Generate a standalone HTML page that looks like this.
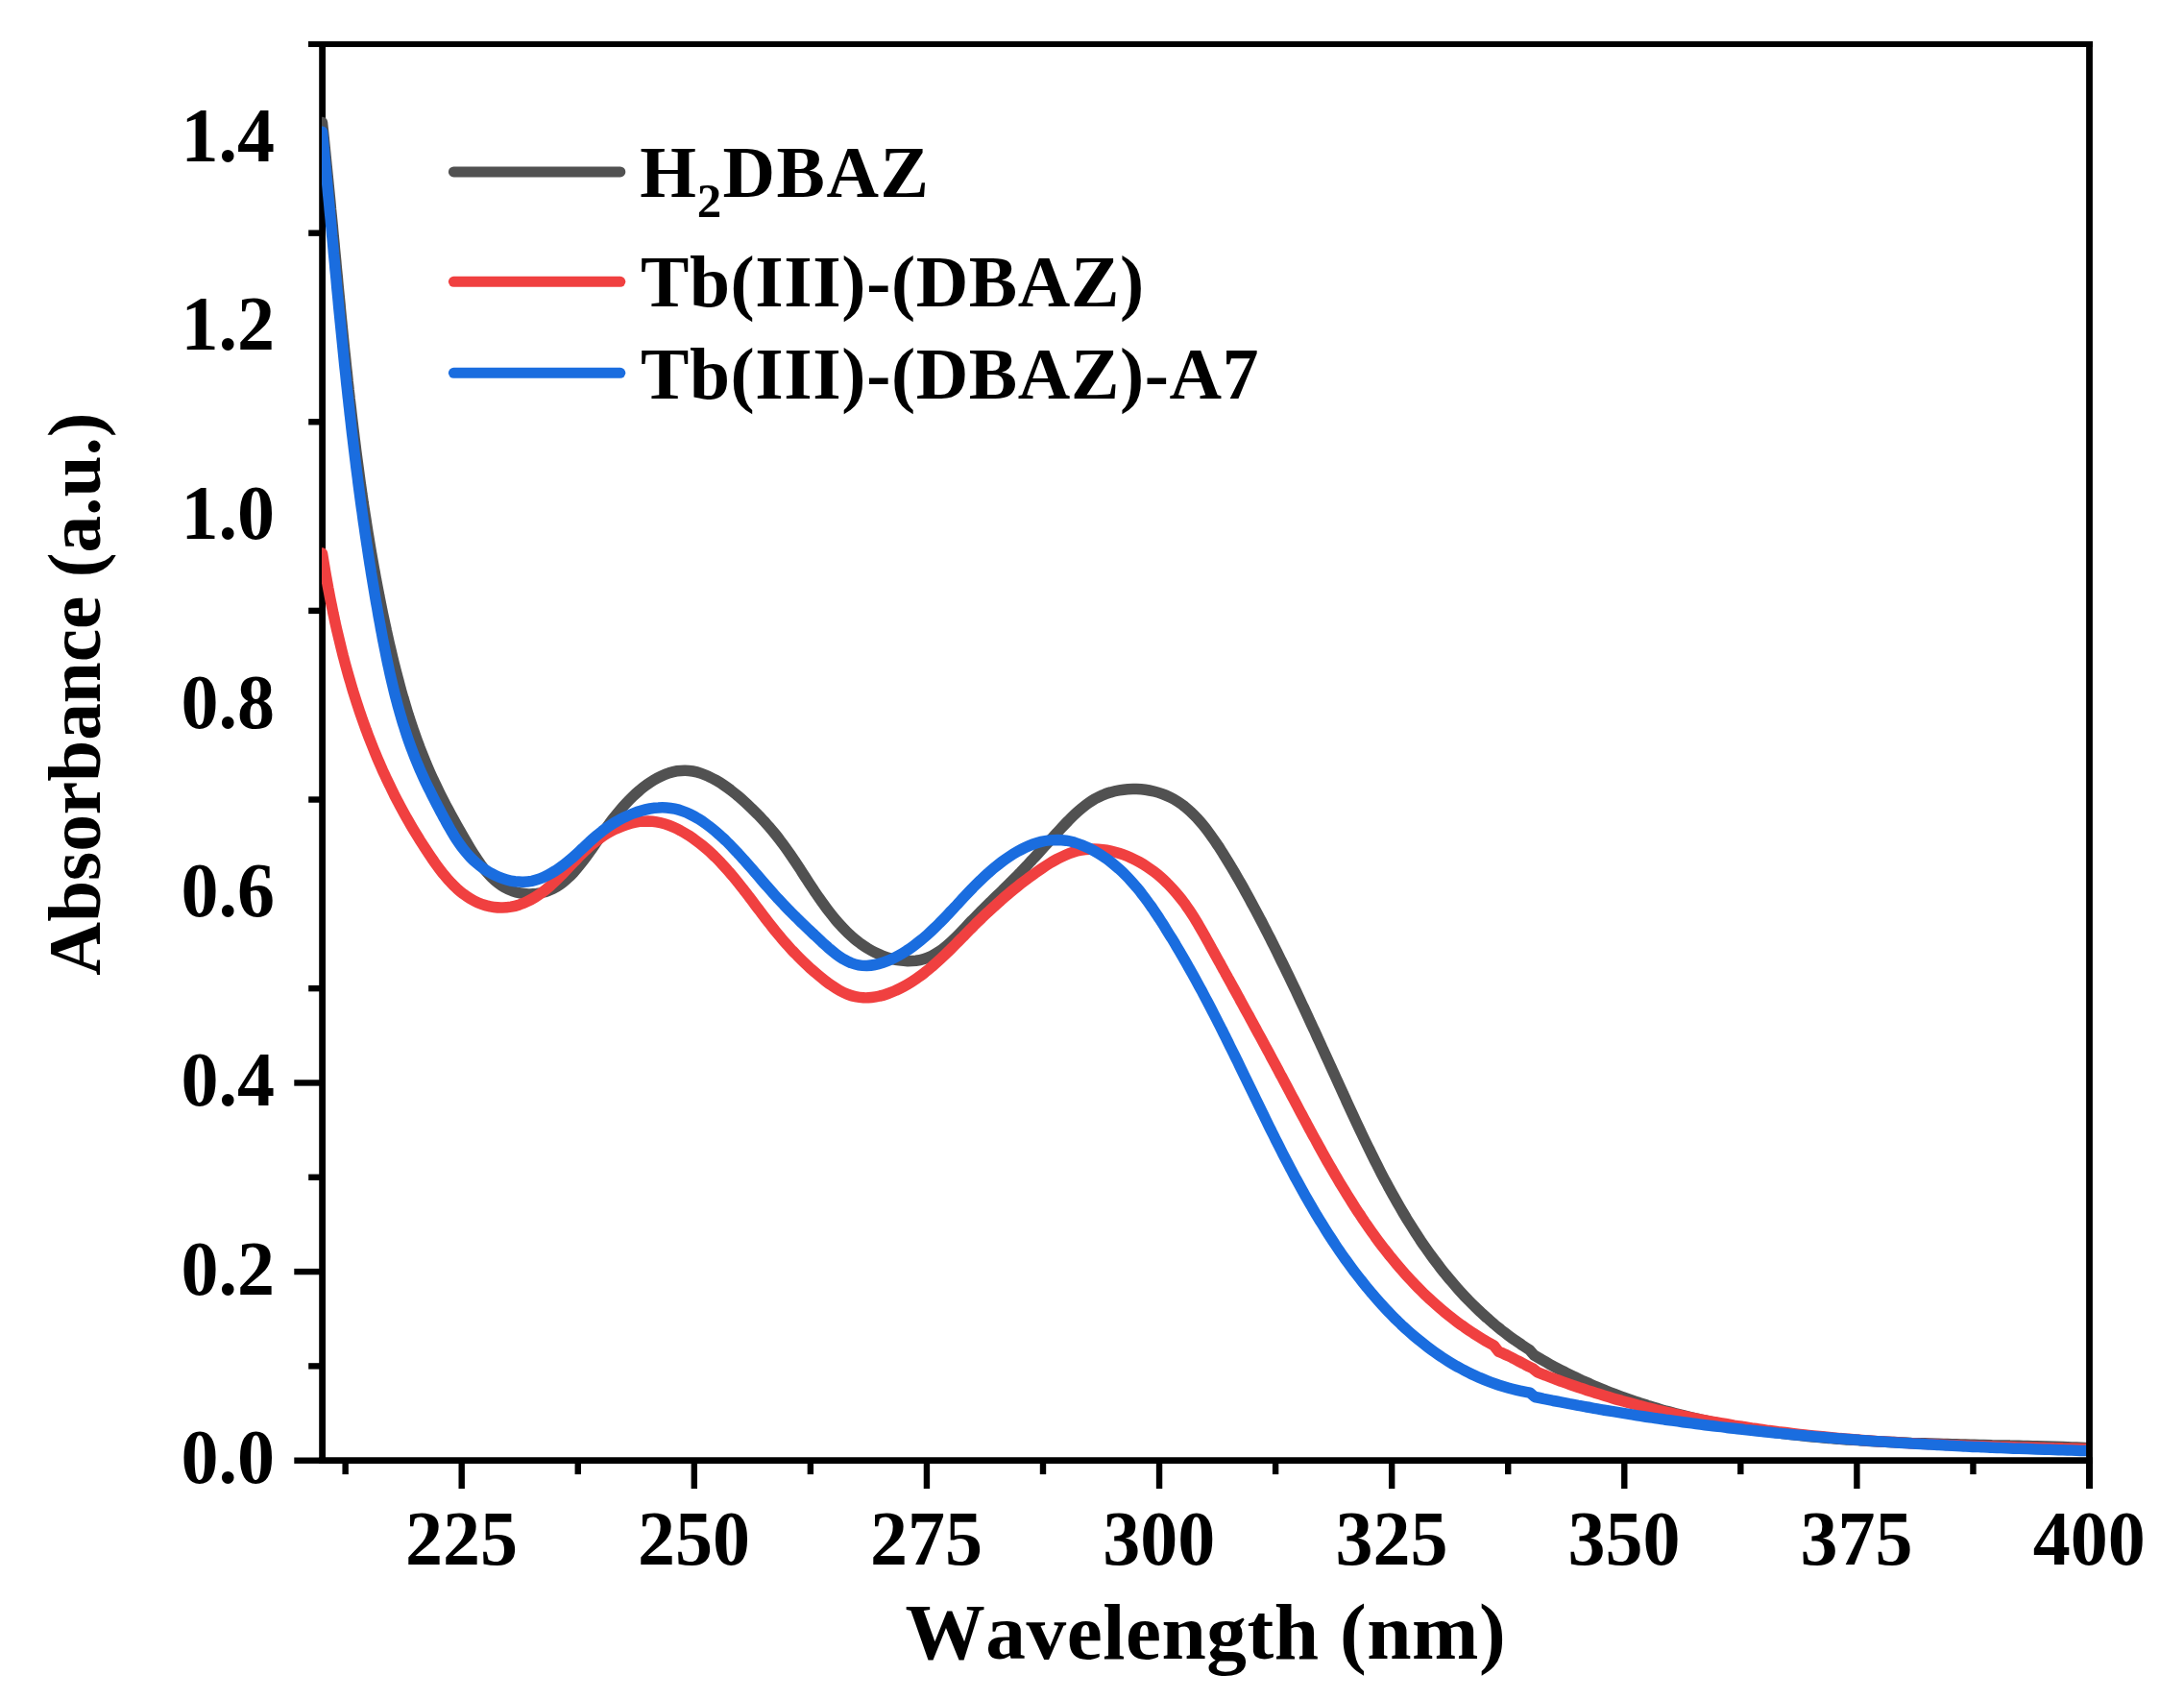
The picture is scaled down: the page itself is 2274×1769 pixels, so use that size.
<!DOCTYPE html>
<html lang="en"><head><meta charset="utf-8"><title>UV-Vis absorbance spectra</title>
<style>html,body{margin:0;padding:0;background:#fff;overflow:hidden}svg{display:block}text{font-family:"Liberation Serif","Times New Roman",serif;font-weight:700;fill:#000;font-kerning:none}</style></head><body>
<svg width="2274" height="1769" viewBox="0 0 2274 1769">
<rect width="2274" height="1769" fill="#fff"/>
<g stroke="#000" stroke-width="6.80" fill="none" stroke-linecap="butt">
<line x1="335.60" y1="43.00" x2="335.60" y2="1524.10"/>
<line x1="321.00" y1="46.00" x2="2178.90" y2="46.00" stroke-width="6"/>
<line x1="332.20" y1="1520.70" x2="2178.90" y2="1520.70"/>
</g>
<g stroke="#000" stroke-width="6.40" fill="none">
<line x1="321.20" y1="1422.39" x2="335.60" y2="1422.39"/>
<line x1="321.20" y1="1225.77" x2="335.60" y2="1225.77"/>
<line x1="321.20" y1="1029.15" x2="335.60" y2="1029.15"/>
<line x1="321.20" y1="832.53" x2="335.60" y2="832.53"/>
<line x1="321.20" y1="635.91" x2="335.60" y2="635.91"/>
<line x1="321.20" y1="439.29" x2="335.60" y2="439.29"/>
<line x1="321.20" y1="242.67" x2="335.60" y2="242.67"/>
<line x1="306.30" y1="1520.70" x2="335.60" y2="1520.70"/>
<line x1="306.30" y1="1324.08" x2="335.60" y2="1324.08"/>
<line x1="306.30" y1="1127.46" x2="335.60" y2="1127.46"/>
<line x1="480.70" y1="1520.70" x2="480.70" y2="1550.00"/>
<line x1="722.81" y1="1520.70" x2="722.81" y2="1550.00"/>
<line x1="964.93" y1="1520.70" x2="964.93" y2="1550.00"/>
<line x1="1207.05" y1="1520.70" x2="1207.05" y2="1550.00"/>
<line x1="1449.16" y1="1520.70" x2="1449.16" y2="1550.00"/>
<line x1="1691.28" y1="1520.70" x2="1691.28" y2="1550.00"/>
<line x1="1933.39" y1="1520.70" x2="1933.39" y2="1550.00"/>
<line x1="2175.50" y1="1520.70" x2="2175.50" y2="1550.00"/>
<line x1="359.64" y1="1520.70" x2="359.64" y2="1535.10"/>
<line x1="601.76" y1="1520.70" x2="601.76" y2="1535.10"/>
<line x1="843.87" y1="1520.70" x2="843.87" y2="1535.10"/>
<line x1="1085.99" y1="1520.70" x2="1085.99" y2="1535.10"/>
<line x1="1328.10" y1="1520.70" x2="1328.10" y2="1535.10"/>
<line x1="1570.22" y1="1520.70" x2="1570.22" y2="1535.10"/>
<line x1="1812.33" y1="1520.70" x2="1812.33" y2="1535.10"/>
<line x1="2054.45" y1="1520.70" x2="2054.45" y2="1535.10"/>
</g>
<defs><clipPath id="plotclip"><rect x="335.00" y="46.00" width="1840.50" height="1471.30"/></clipPath></defs>
<g clip-path="url(#plotclip)" fill="none" stroke-width="11.50" stroke-linecap="round" stroke-linejoin="round">
<path stroke="#515151" d="M335.5 127.5C335.8 130.5 336.1 133.5 336.5 136.5C336.8 139.5 337.1 142.5 337.4 145.5C337.7 148.5 338.0 151.5 338.3 154.5C338.6 157.5 338.9 160.5 339.2 163.5C339.5 166.5 339.8 169.5 340.1 172.5C340.4 175.5 340.7 178.5 341.0 181.5C341.3 184.5 341.6 187.5 341.9 190.5C342.2 193.5 342.5 196.5 342.8 199.5C343.1 202.5 343.4 205.5 343.7 208.5C344.0 211.5 344.3 214.5 344.5 217.5C344.8 220.5 345.1 223.5 345.4 226.5C345.7 229.5 346.0 232.5 346.3 235.5C346.5 238.5 346.8 241.5 347.1 244.5C347.4 247.5 347.7 250.5 348.0 253.5C348.2 256.5 348.5 259.5 348.8 262.5C349.1 265.5 349.4 268.5 349.7 271.5C349.9 274.5 350.2 277.5 350.5 280.5C350.8 283.5 351.1 286.5 351.4 289.5C351.6 292.5 351.9 295.5 352.2 298.5C352.5 301.5 352.8 304.5 353.1 307.5C353.4 310.5 353.7 313.5 354.0 316.5C354.2 319.5 354.5 322.5 354.8 325.5C355.1 328.5 355.4 331.5 355.7 334.5C356.0 337.5 356.3 340.5 356.6 343.5C356.9 346.5 357.2 349.5 357.5 352.5C357.8 355.5 358.1 358.5 358.4 361.5C358.7 364.5 359.0 367.5 359.4 370.5C359.7 373.5 360.0 376.5 360.3 379.5C360.6 382.5 360.9 385.5 361.3 388.4C361.6 391.4 361.9 394.4 362.2 397.4C362.6 400.4 362.9 403.4 363.2 406.4C363.6 409.4 363.9 412.4 364.2 415.4C364.6 418.4 364.9 421.4 365.3 424.4C365.6 427.4 365.9 430.3 366.3 433.3C366.7 436.3 367.0 439.3 367.4 442.3C367.7 445.3 368.1 448.3 368.5 451.3C368.8 454.3 369.2 457.3 369.6 460.2C370.0 463.2 370.3 466.2 370.7 469.2C371.1 472.2 371.5 475.2 371.9 478.2C372.3 481.1 372.7 484.1 373.1 487.1C373.5 490.1 373.9 493.1 374.3 496.1C374.7 499.1 375.1 502.0 375.5 505.0C376.0 508.0 376.4 511.0 376.8 514.0C377.3 516.9 377.7 519.9 378.1 522.9C378.6 525.9 379.0 528.9 379.5 531.8C379.9 534.8 380.4 537.8 380.9 540.8C381.3 543.8 381.8 546.7 382.3 549.7C382.7 552.7 383.2 555.7 383.7 558.6C384.2 561.6 384.7 564.6 385.2 567.6C385.7 570.5 386.2 573.5 386.7 576.5C387.2 579.4 387.8 582.4 388.3 585.4C388.8 588.4 389.3 591.3 389.9 594.3C390.4 597.3 391.0 600.2 391.5 603.2C392.1 606.2 392.6 609.1 393.2 612.1C393.8 615.1 394.4 618.0 394.9 621.0C395.5 623.9 396.1 626.9 396.7 629.9C397.3 632.8 397.9 635.8 398.5 638.8C399.1 641.7 399.8 644.7 400.4 647.6C401.0 650.6 401.7 653.5 402.3 656.5C403.0 659.5 403.6 662.4 404.3 665.4C404.9 668.3 405.6 671.3 406.3 674.2C407.0 677.2 407.7 680.1 408.4 683.1C409.1 686.0 409.8 688.9 410.5 691.9C411.3 694.8 412.0 697.7 412.8 700.7C413.5 703.6 414.3 706.5 415.1 709.4C415.8 712.3 416.6 715.2 417.4 718.2C418.2 721.1 419.1 724.0 419.9 726.8C420.8 729.7 421.6 732.6 422.5 735.5C423.4 738.4 424.2 741.2 425.1 744.1C426.1 747.0 427.0 749.8 427.9 752.7C428.9 755.5 429.8 758.3 430.8 761.2C431.8 764.0 432.8 766.8 433.8 769.6C434.8 772.4 435.9 775.2 436.9 778.0C438.0 780.8 439.1 783.6 440.2 786.3C441.3 789.1 442.4 791.9 443.5 794.6C444.7 797.3 445.8 800.1 447.0 802.8C448.2 805.5 449.4 808.2 450.7 810.9C451.9 813.6 453.2 816.3 454.5 818.9C455.8 821.6 457.1 824.3 458.4 827.0C459.7 829.6 461.1 832.3 462.5 834.9C463.8 837.6 465.2 840.3 466.7 842.9C468.1 845.6 469.5 848.3 471.0 850.9C472.5 853.6 474.0 856.3 475.5 859.0C477.0 861.7 478.5 864.3 480.1 867.1C481.6 869.8 483.2 872.5 484.8 875.2C486.4 878.0 488.0 880.7 489.6 883.4C491.3 886.2 493.0 888.9 494.7 891.5C496.4 894.2 498.2 896.8 500.0 899.4C501.9 901.9 503.8 904.4 505.7 906.7C507.7 909.0 509.7 911.3 511.8 913.4C513.9 915.5 516.1 917.4 518.4 919.2C520.7 921.0 523.0 922.6 525.5 924.0C528.0 925.4 530.6 926.7 533.3 927.6C535.9 928.6 538.7 929.4 541.6 929.9C544.4 930.5 547.3 930.8 550.2 930.9C553.1 931.0 556.0 930.8 558.9 930.5C561.8 930.1 564.7 929.5 567.5 928.6C570.3 927.8 573.0 926.7 575.7 925.4C578.3 924.1 580.9 922.5 583.3 920.8C585.8 919.0 588.1 917.1 590.4 915.0C592.7 913.0 594.9 910.8 597.0 908.5C599.0 906.3 601.1 903.9 603.0 901.5C604.9 899.2 606.8 896.8 608.6 894.4C610.4 892.0 612.1 889.6 613.8 887.2C615.5 884.8 617.2 882.4 618.9 880.0C620.5 877.6 622.2 875.2 623.8 872.7C625.5 870.3 627.1 867.9 628.9 865.4C630.6 863.0 632.3 860.6 634.1 858.1C635.9 855.7 637.7 853.2 639.7 850.8C641.6 848.3 643.6 845.9 645.7 843.4C647.7 841.0 649.9 838.6 652.1 836.3C654.3 833.9 656.5 831.6 658.8 829.4C661.1 827.2 663.5 825.0 665.9 823.0C668.3 820.9 670.8 819.0 673.3 817.2C675.8 815.3 678.4 813.6 680.9 812.1C683.5 810.5 686.1 809.1 688.8 807.9C691.4 806.7 694.1 805.6 696.8 804.8C699.5 803.9 702.2 803.2 704.9 802.8C707.6 802.4 710.4 802.2 713.1 802.2C715.8 802.2 718.6 802.5 721.4 803.0C724.1 803.5 726.9 804.2 729.6 805.1C732.3 806.0 735.1 807.1 737.8 808.4C740.5 809.6 743.2 811.1 745.8 812.6C748.5 814.1 751.1 815.8 753.8 817.6C756.4 819.3 758.9 821.2 761.5 823.2C764.0 825.1 766.5 827.2 768.9 829.2C771.3 831.3 773.7 833.4 776.0 835.5C778.4 837.6 780.6 839.8 782.8 841.9C785.0 844.1 787.2 846.2 789.2 848.3C791.3 850.4 793.3 852.6 795.3 854.7C797.3 856.9 799.2 859.1 801.1 861.2C803.0 863.4 804.9 865.6 806.7 867.9C808.5 870.1 810.3 872.4 812.0 874.7C813.8 877.0 815.6 879.3 817.3 881.7C819.0 884.1 820.7 886.5 822.4 889.0C824.1 891.5 825.8 894.0 827.5 896.5C829.2 899.0 830.9 901.6 832.6 904.2C834.3 906.8 835.9 909.4 837.6 912.0C839.3 914.6 841.0 917.2 842.7 919.8C844.5 922.5 846.2 925.1 847.9 927.7C849.7 930.3 851.4 932.9 853.2 935.4C855.0 938.0 856.8 940.6 858.7 943.1C860.5 945.6 862.4 948.1 864.3 950.5C866.2 952.9 868.1 955.3 870.1 957.7C872.0 960.0 874.1 962.3 876.1 964.5C878.2 966.7 880.3 968.9 882.4 971.0C884.6 973.0 886.8 975.0 889.0 977.0C891.3 978.9 893.6 980.7 896.0 982.5C898.4 984.2 900.8 985.8 903.3 987.4C905.8 988.9 908.4 990.4 911.0 991.7C913.7 993.0 916.4 994.2 919.2 995.3C921.9 996.3 924.8 997.3 927.7 998.1C930.5 998.8 933.4 999.5 936.3 999.9C939.2 1000.3 942.1 1000.6 945.0 1000.7C947.9 1000.7 950.8 1000.6 953.6 1000.3C956.5 999.9 959.3 999.3 962.0 998.5C964.7 997.7 967.4 996.6 970.0 995.3C972.6 994.0 975.1 992.5 977.6 990.8C980.1 989.2 982.5 987.3 984.9 985.3C987.2 983.4 989.6 981.3 991.9 979.1C994.2 976.9 996.5 974.7 998.7 972.4C1000.9 970.1 1003.2 967.7 1005.4 965.4C1007.6 963.1 1009.8 960.8 1011.9 958.5C1014.1 956.3 1016.3 954.1 1018.5 951.9C1020.6 949.7 1022.8 947.6 1024.9 945.4C1027.1 943.3 1029.2 941.2 1031.3 939.1C1033.5 937.0 1035.6 935.0 1037.7 932.9C1039.8 930.8 1042.0 928.8 1044.1 926.7C1046.2 924.7 1048.3 922.6 1050.3 920.6C1052.4 918.5 1054.5 916.4 1056.6 914.3C1058.7 912.2 1060.7 910.1 1062.8 908.0C1064.9 905.8 1066.9 903.7 1069.0 901.5C1071.0 899.3 1073.1 897.1 1075.1 894.9C1077.2 892.7 1079.2 890.5 1081.2 888.3C1083.3 886.0 1085.3 883.8 1087.4 881.5C1089.4 879.3 1091.5 877.0 1093.5 874.8C1095.6 872.5 1097.7 870.3 1099.7 868.0C1101.8 865.7 1103.9 863.5 1106.0 861.2C1108.1 859.0 1110.2 856.7 1112.3 854.6C1114.4 852.4 1116.6 850.2 1118.8 848.1C1121.0 846.0 1123.3 844.0 1125.6 842.1C1127.9 840.2 1130.2 838.3 1132.6 836.6C1135.1 834.9 1137.5 833.3 1140.1 831.8C1142.7 830.4 1145.3 829.0 1148.0 827.9C1150.7 826.7 1153.6 825.7 1156.4 824.9C1159.3 824.0 1162.3 823.3 1165.2 822.8C1168.2 822.3 1171.2 821.9 1174.3 821.7C1177.3 821.5 1180.4 821.5 1183.4 821.6C1186.5 821.7 1189.5 821.9 1192.5 822.3C1195.5 822.7 1198.5 823.3 1201.5 824.0C1204.4 824.7 1207.3 825.6 1210.1 826.6C1213.0 827.6 1215.7 828.8 1218.4 830.1C1221.0 831.4 1223.6 832.9 1226.1 834.5C1228.6 836.1 1231.0 837.8 1233.3 839.6C1235.6 841.5 1237.9 843.4 1240.0 845.5C1242.2 847.5 1244.3 849.7 1246.4 851.9C1248.4 854.1 1250.4 856.4 1252.3 858.7C1254.3 861.1 1256.2 863.5 1258.0 866.0C1259.8 868.4 1261.6 871.0 1263.4 873.5C1265.2 876.0 1266.9 878.6 1268.6 881.1C1270.3 883.7 1271.9 886.3 1273.6 888.9C1275.2 891.5 1276.8 894.1 1278.4 896.7C1280.0 899.3 1281.6 901.9 1283.1 904.5C1284.7 907.1 1286.2 909.7 1287.7 912.3C1289.2 914.9 1290.7 917.6 1292.2 920.2C1293.7 922.8 1295.2 925.4 1296.6 928.1C1298.1 930.7 1299.5 933.3 1301.0 936.0C1302.4 938.6 1303.8 941.3 1305.2 943.9C1306.7 946.6 1308.1 949.2 1309.5 951.9C1310.9 954.5 1312.3 957.2 1313.7 959.8C1315.1 962.5 1316.4 965.2 1317.8 967.8C1319.2 970.5 1320.5 973.2 1321.9 975.8C1323.3 978.5 1324.6 981.2 1326.0 983.9C1327.3 986.5 1328.6 989.2 1330.0 991.9C1331.3 994.6 1332.6 997.3 1333.9 1000.0C1335.3 1002.7 1336.6 1005.3 1337.9 1008.0C1339.2 1010.7 1340.5 1013.4 1341.8 1016.1C1343.1 1018.8 1344.4 1021.5 1345.7 1024.2C1347.0 1026.9 1348.3 1029.6 1349.6 1032.3C1350.8 1035.1 1352.1 1037.8 1353.4 1040.5C1354.7 1043.2 1355.9 1045.9 1357.2 1048.6C1358.5 1051.3 1359.7 1054.1 1361.0 1056.8C1362.3 1059.5 1363.5 1062.2 1364.8 1065.0C1366.1 1067.7 1367.3 1070.4 1368.6 1073.1C1369.8 1075.9 1371.1 1078.6 1372.3 1081.3C1373.6 1084.1 1374.8 1086.8 1376.1 1089.6C1377.3 1092.3 1378.6 1095.0 1379.8 1097.8C1381.1 1100.5 1382.3 1103.3 1383.6 1106.0C1384.8 1108.8 1386.1 1111.5 1387.4 1114.3C1388.6 1117.0 1389.9 1119.8 1391.1 1122.5C1392.4 1125.3 1393.6 1128.0 1394.9 1130.8C1396.1 1133.6 1397.4 1136.3 1398.6 1139.1C1399.9 1141.8 1401.2 1144.6 1402.4 1147.4C1403.7 1150.1 1405.0 1152.9 1406.2 1155.6C1407.5 1158.4 1408.8 1161.2 1410.1 1163.9C1411.4 1166.7 1412.6 1169.4 1413.9 1172.2C1415.2 1174.9 1416.5 1177.7 1417.8 1180.4C1419.1 1183.2 1420.4 1185.9 1421.8 1188.7C1423.1 1191.4 1424.4 1194.1 1425.8 1196.9C1427.1 1199.6 1428.4 1202.3 1429.8 1205.0C1431.1 1207.8 1432.5 1210.5 1433.9 1213.2C1435.3 1215.9 1436.6 1218.6 1438.0 1221.3C1439.4 1224.0 1440.8 1226.6 1442.2 1229.3C1443.7 1232.0 1445.1 1234.6 1446.5 1237.3C1448.0 1240.0 1449.4 1242.6 1450.9 1245.2C1452.4 1247.9 1453.9 1250.5 1455.4 1253.1C1456.9 1255.7 1458.4 1258.3 1459.9 1260.9C1461.4 1263.5 1463.0 1266.1 1464.5 1268.7C1466.1 1271.2 1467.7 1273.8 1469.3 1276.3C1470.9 1278.9 1472.5 1281.4 1474.1 1283.9C1475.7 1286.4 1477.4 1288.9 1479.0 1291.4C1480.7 1293.9 1482.4 1296.4 1484.1 1298.8C1485.8 1301.3 1487.5 1303.7 1489.3 1306.1C1491.0 1308.5 1492.8 1310.9 1494.6 1313.3C1496.4 1315.7 1498.2 1318.0 1500.0 1320.4C1501.8 1322.7 1503.7 1325.1 1505.6 1327.4C1507.4 1329.7 1509.3 1332.0 1511.3 1334.2C1513.2 1336.5 1515.1 1338.7 1517.1 1341.0C1519.1 1343.2 1521.1 1345.4 1523.1 1347.6C1525.1 1349.8 1527.2 1351.9 1529.3 1354.1C1531.3 1356.2 1533.4 1358.3 1535.6 1360.4C1537.7 1362.5 1539.9 1364.5 1542.1 1366.6C1544.2 1368.6 1546.5 1370.6 1548.7 1372.6C1551.0 1374.6 1553.2 1376.6 1555.5 1378.5C1557.8 1380.5 1560.2 1382.4 1562.5 1384.3C1564.9 1386.1 1567.3 1388.0 1569.7 1389.8C1572.2 1391.7 1574.6 1393.5 1577.1 1395.2C1579.6 1397.0 1582.2 1398.7 1584.7 1400.5C1587.3 1402.2 1589.9 1403.8 1592.5 1405.5L1597.3 1411.0C1600.0 1412.6 1602.7 1414.2 1605.4 1415.8C1608.1 1417.3 1610.9 1418.9 1613.6 1420.4C1616.3 1421.9 1619.1 1423.4 1621.8 1424.8C1624.6 1426.3 1627.4 1427.7 1630.1 1429.1C1632.9 1430.5 1635.7 1431.9 1638.5 1433.2C1641.3 1434.5 1644.1 1435.9 1646.9 1437.2C1649.7 1438.4 1652.5 1439.7 1655.3 1440.9C1658.1 1442.2 1660.9 1443.4 1663.8 1444.6C1666.6 1445.8 1669.5 1446.9 1672.3 1448.1C1675.2 1449.2 1678.0 1450.3 1680.9 1451.4C1683.8 1452.5 1686.6 1453.6 1689.5 1454.6C1692.4 1455.7 1695.3 1456.7 1698.2 1457.7C1701.1 1458.7 1704.0 1459.7 1706.9 1460.6C1709.8 1461.6 1712.7 1462.5 1715.6 1463.5C1718.6 1464.4 1721.5 1465.3 1724.4 1466.1C1727.4 1467.0 1730.3 1467.8 1733.2 1468.7C1736.2 1469.5 1739.1 1470.3 1742.1 1471.1C1745.1 1471.9 1748.0 1472.7 1751.0 1473.4C1754.0 1474.2 1756.9 1474.9 1759.9 1475.6C1762.9 1476.3 1765.9 1477.0 1768.9 1477.7C1771.9 1478.3 1774.9 1479.0 1777.9 1479.6C1780.9 1480.3 1783.9 1480.9 1786.9 1481.5C1789.9 1482.1 1792.9 1482.7 1795.9 1483.3C1799.0 1483.8 1802.0 1484.4 1805.0 1484.9C1808.0 1485.5 1811.1 1486.0 1814.1 1486.5C1817.2 1487.0 1820.2 1487.5 1823.2 1488.0C1826.3 1488.4 1829.3 1488.9 1832.4 1489.4C1835.4 1489.8 1838.5 1490.2 1841.6 1490.6C1844.6 1491.1 1847.7 1491.5 1850.8 1491.9C1853.8 1492.3 1856.9 1492.6 1860.0 1493.0C1863.0 1493.4 1866.1 1493.7 1869.2 1494.1C1872.3 1494.4 1875.4 1494.7 1878.4 1495.0C1881.5 1495.4 1884.6 1495.7 1887.7 1496.0C1890.8 1496.2 1893.9 1496.5 1897.0 1496.8C1900.1 1497.1 1903.2 1497.3 1906.3 1497.6C1909.4 1497.8 1912.5 1498.1 1915.6 1498.3C1918.7 1498.5 1921.8 1498.8 1924.9 1499.0C1928.0 1499.2 1931.1 1499.4 1934.2 1499.6C1937.3 1499.8 1940.4 1500.0 1943.5 1500.2C1946.6 1500.3 1949.8 1500.5 1952.9 1500.7C1956.0 1500.8 1959.1 1501.0 1962.2 1501.2C1965.3 1501.3 1968.4 1501.5 1971.6 1501.6C1974.7 1501.7 1977.8 1501.9 1980.9 1502.0C1984.0 1502.1 1987.1 1502.2 1990.2 1502.4C1993.4 1502.5 1996.5 1502.6 1999.6 1502.7C2002.7 1502.8 2005.8 1502.9 2008.9 1503.0C2012.1 1503.1 2015.2 1503.2 2018.3 1503.3C2021.4 1503.4 2024.5 1503.5 2027.6 1503.5C2030.7 1503.6 2033.9 1503.7 2037.0 1503.8C2040.1 1503.9 2043.2 1503.9 2046.3 1504.0C2049.4 1504.1 2052.5 1504.2 2055.6 1504.2C2058.7 1504.3 2061.8 1504.4 2064.9 1504.4C2068.0 1504.5 2071.1 1504.6 2074.2 1504.7C2077.3 1504.7 2080.4 1504.8 2083.5 1504.9C2086.6 1504.9 2089.7 1505.0 2092.8 1505.1C2095.9 1505.1 2099.0 1505.2 2102.1 1505.3C2105.1 1505.4 2108.2 1505.4 2111.3 1505.5C2114.4 1505.6 2117.5 1505.7 2120.5 1505.7C2123.6 1505.8 2126.7 1505.9 2129.7 1506.0C2132.8 1506.1 2135.9 1506.2 2138.9 1506.3C2142.0 1506.4 2145.1 1506.5 2148.1 1506.6C2151.2 1506.7 2154.2 1506.8 2157.3 1506.9C2160.3 1507.0 2163.4 1507.1 2166.4 1507.2C2169.4 1507.3 2172.5 1507.5 2175.5 1507.6"/>
<path stroke="#F04040" d="M335.5 576.1C336.0 579.1 336.5 582.1 337.0 585.1C337.5 588.2 338.0 591.2 338.5 594.2C339.0 597.2 339.5 600.2 340.1 603.2C340.6 606.2 341.2 609.2 341.7 612.1C342.3 615.1 342.9 618.1 343.4 621.1C344.0 624.1 344.6 627.0 345.2 630.0C345.8 633.0 346.4 635.9 347.0 638.9C347.7 641.9 348.3 644.8 348.9 647.8C349.6 650.7 350.2 653.7 350.9 656.6C351.6 659.6 352.3 662.5 353.0 665.4C353.7 668.4 354.4 671.3 355.1 674.2C355.8 677.1 356.6 680.1 357.3 683.0C358.1 685.9 358.8 688.8 359.6 691.7C360.4 694.6 361.2 697.5 362.0 700.4C362.8 703.3 363.6 706.1 364.5 709.0C365.3 711.9 366.2 714.8 367.0 717.7C367.9 720.5 368.8 723.4 369.7 726.2C370.6 729.1 371.5 731.9 372.5 734.8C373.4 737.6 374.3 740.5 375.3 743.3C376.3 746.1 377.3 749.0 378.3 751.8C379.3 754.6 380.3 757.4 381.3 760.2C382.4 763.0 383.4 765.8 384.5 768.6C385.6 771.4 386.7 774.2 387.8 777.0C388.9 779.8 390.0 782.6 391.2 785.3C392.3 788.1 393.5 790.9 394.7 793.6C395.9 796.4 397.1 799.1 398.3 801.9C399.6 804.6 400.8 807.3 402.1 810.1C403.4 812.8 404.6 815.5 406.0 818.2C407.3 821.0 408.6 823.7 410.0 826.4C411.3 829.1 412.7 831.7 414.1 834.4C415.5 837.1 416.9 839.8 418.4 842.5C419.8 845.1 421.3 847.8 422.8 850.5C424.3 853.1 425.8 855.8 427.3 858.4C428.8 861.0 430.4 863.7 432.0 866.3C433.6 868.9 435.2 871.5 436.8 874.1C438.5 876.7 440.1 879.3 441.8 881.9C443.5 884.5 445.2 887.1 446.9 889.7C448.6 892.3 450.4 894.8 452.2 897.4C454.0 899.9 455.8 902.4 457.7 904.9C459.5 907.3 461.4 909.8 463.4 912.1C465.3 914.4 467.3 916.7 469.4 918.9C471.4 921.1 473.6 923.2 475.7 925.2C477.9 927.2 480.2 929.1 482.5 930.8C484.8 932.6 487.2 934.2 489.6 935.7C492.1 937.2 494.6 938.5 497.3 939.7C499.9 940.8 502.6 941.8 505.4 942.6C508.3 943.4 511.2 944.1 514.1 944.5C517.1 944.9 520.1 945.1 523.1 945.0C526.1 945.0 529.2 944.7 532.1 944.2C535.1 943.6 538.0 942.8 540.9 941.9C543.8 940.9 546.6 939.8 549.4 938.4C552.1 937.1 554.8 935.6 557.4 934.0C560.0 932.4 562.5 930.7 564.9 928.9C567.3 927.1 569.7 925.1 572.0 923.1C574.3 921.1 576.5 919.0 578.7 916.9C580.9 914.8 583.1 912.6 585.2 910.5C587.3 908.3 589.4 906.1 591.4 903.9C593.5 901.8 595.5 899.6 597.6 897.4C599.7 895.3 601.7 893.1 603.8 891.0C605.9 888.9 608.0 886.8 610.2 884.8C612.3 882.8 614.5 880.8 616.8 878.9C619.1 876.9 621.5 875.1 623.9 873.3C626.4 871.5 628.9 869.8 631.5 868.2C634.2 866.6 636.9 865.1 639.7 863.7C642.5 862.3 645.3 861.1 648.2 860.0C651.1 858.9 654.1 857.9 657.0 857.1C660.0 856.4 663.0 855.8 666.0 855.4C668.9 855.0 671.9 854.9 674.9 854.9C677.8 855.0 680.8 855.3 683.7 855.8C686.6 856.3 689.5 857.0 692.3 857.9C695.1 858.8 697.9 859.8 700.7 861.0C703.5 862.2 706.2 863.5 708.8 865.0C711.5 866.4 714.1 868.0 716.7 869.6C719.2 871.3 721.7 873.0 724.2 874.8C726.6 876.5 729.0 878.4 731.3 880.3C733.6 882.2 735.9 884.1 738.1 886.1C740.4 888.1 742.5 890.2 744.7 892.3C746.8 894.4 748.9 896.5 750.9 898.7C753.0 900.9 755.0 903.1 757.0 905.3C759.0 907.6 760.9 909.9 762.9 912.2C764.8 914.5 766.7 916.8 768.6 919.1C770.5 921.5 772.3 923.9 774.2 926.2C776.0 928.6 777.9 931.0 779.7 933.4C781.6 935.8 783.4 938.2 785.2 940.7C787.0 943.1 788.8 945.5 790.7 947.9C792.5 950.3 794.3 952.7 796.1 955.1C798.0 957.5 799.8 959.9 801.7 962.3C803.6 964.7 805.4 967.0 807.3 969.4C809.2 971.7 811.1 974.0 813.1 976.3C815.0 978.6 817.0 980.9 819.0 983.1C821.0 985.3 823.0 987.6 825.0 989.8C827.1 992.0 829.2 994.1 831.3 996.3C833.4 998.4 835.6 1000.6 837.8 1002.7C840.0 1004.8 842.2 1006.8 844.5 1008.9C846.8 1010.9 849.1 1012.9 851.5 1014.9C853.9 1016.9 856.3 1018.9 858.8 1020.8C861.2 1022.7 863.7 1024.6 866.3 1026.3C868.9 1028.1 871.5 1029.8 874.1 1031.2C876.8 1032.7 879.5 1034.0 882.2 1035.1C884.9 1036.2 887.7 1037.1 890.5 1037.7C893.3 1038.3 896.1 1038.7 898.9 1038.8C901.8 1039.0 904.7 1038.8 907.5 1038.5C910.4 1038.2 913.3 1037.7 916.1 1037.0C919.0 1036.4 921.8 1035.5 924.6 1034.5C927.4 1033.5 930.2 1032.4 932.9 1031.1C935.7 1029.9 938.4 1028.5 941.0 1027.1C943.6 1025.7 946.2 1024.2 948.7 1022.6C951.3 1021.0 953.7 1019.3 956.2 1017.6C958.6 1015.9 961.0 1014.1 963.3 1012.2C965.7 1010.4 968.0 1008.5 970.3 1006.5C972.6 1004.6 974.8 1002.6 977.0 1000.6C979.2 998.6 981.4 996.5 983.6 994.4C985.8 992.3 988.0 990.2 990.1 988.1C992.3 985.9 994.4 983.8 996.5 981.6C998.6 979.5 1000.8 977.3 1002.9 975.2C1005.0 973.0 1007.1 970.8 1009.2 968.7C1011.4 966.6 1013.5 964.4 1015.6 962.3C1017.8 960.2 1019.9 958.1 1022.1 956.0C1024.2 953.9 1026.4 951.8 1028.6 949.8C1030.8 947.7 1033.0 945.7 1035.2 943.7C1037.4 941.7 1039.6 939.6 1041.9 937.7C1044.1 935.7 1046.4 933.7 1048.7 931.8C1051.0 929.8 1053.3 927.9 1055.6 926.0C1058.0 924.1 1060.3 922.2 1062.7 920.3C1065.1 918.4 1067.5 916.6 1070.0 914.8C1072.4 912.9 1074.9 911.1 1077.4 909.4C1079.9 907.6 1082.4 905.8 1085.0 904.1C1087.5 902.4 1090.1 900.7 1092.8 899.0C1095.4 897.4 1098.1 895.9 1100.8 894.4C1103.5 893.0 1106.2 891.7 1109.0 890.5C1111.7 889.3 1114.5 888.2 1117.4 887.3C1120.2 886.4 1123.0 885.7 1125.9 885.2C1128.8 884.6 1131.7 884.3 1134.7 884.2C1137.6 884.0 1140.6 884.0 1143.5 884.2C1146.5 884.4 1149.4 884.7 1152.4 885.2C1155.3 885.7 1158.3 886.4 1161.2 887.2C1164.1 888.0 1167.0 888.9 1169.8 889.9C1172.7 891.0 1175.5 892.2 1178.3 893.5C1181.1 894.7 1183.8 896.1 1186.5 897.6C1189.2 899.1 1191.8 900.7 1194.3 902.4C1196.9 904.1 1199.3 905.9 1201.7 907.7C1204.1 909.5 1206.5 911.5 1208.7 913.4C1211.0 915.4 1213.2 917.5 1215.3 919.6C1217.5 921.7 1219.5 923.9 1221.5 926.1C1223.6 928.4 1225.5 930.7 1227.4 933.0C1229.3 935.3 1231.2 937.7 1233.0 940.1C1234.7 942.6 1236.5 945.0 1238.2 947.5C1239.9 950.0 1241.5 952.5 1243.1 955.1C1244.7 957.6 1246.2 960.2 1247.8 962.8C1249.3 965.4 1250.8 968.0 1252.3 970.6C1253.8 973.2 1255.2 975.9 1256.7 978.5C1258.1 981.1 1259.6 983.7 1261.0 986.4C1262.5 989.0 1264.0 991.6 1265.4 994.2C1266.9 996.9 1268.3 999.5 1269.8 1002.1C1271.2 1004.7 1272.7 1007.3 1274.1 1010.0C1275.6 1012.6 1277.0 1015.2 1278.4 1017.8C1279.9 1020.4 1281.3 1023.1 1282.8 1025.7C1284.2 1028.3 1285.7 1030.9 1287.1 1033.5C1288.5 1036.2 1290.0 1038.8 1291.4 1041.4C1292.8 1044.0 1294.3 1046.6 1295.7 1049.3C1297.1 1051.9 1298.6 1054.5 1300.0 1057.1C1301.4 1059.8 1302.9 1062.4 1304.3 1065.0C1305.7 1067.7 1307.2 1070.3 1308.6 1072.9C1310.0 1075.6 1311.5 1078.2 1312.9 1080.8C1314.3 1083.5 1315.7 1086.1 1317.2 1088.8C1318.6 1091.4 1320.0 1094.1 1321.5 1096.7C1322.9 1099.4 1324.3 1102.0 1325.7 1104.7C1327.2 1107.3 1328.6 1110.0 1330.0 1112.6C1331.4 1115.3 1332.9 1118.0 1334.3 1120.6C1335.7 1123.3 1337.1 1126.0 1338.5 1128.6C1340.0 1131.3 1341.4 1134.0 1342.8 1136.7C1344.2 1139.3 1345.7 1142.0 1347.1 1144.7C1348.5 1147.4 1349.9 1150.1 1351.4 1152.8C1352.8 1155.5 1354.2 1158.2 1355.7 1160.9C1357.1 1163.5 1358.5 1166.2 1360.0 1168.9C1361.4 1171.6 1362.9 1174.3 1364.3 1177.0C1365.8 1179.7 1367.2 1182.4 1368.7 1185.0C1370.2 1187.7 1371.6 1190.4 1373.1 1193.1C1374.6 1195.7 1376.1 1198.4 1377.5 1201.1C1379.0 1203.7 1380.5 1206.4 1382.0 1209.1C1383.5 1211.7 1385.1 1214.4 1386.6 1217.0C1388.1 1219.6 1389.6 1222.3 1391.2 1224.9C1392.7 1227.5 1394.3 1230.2 1395.8 1232.8C1397.4 1235.4 1399.0 1238.0 1400.6 1240.6C1402.2 1243.2 1403.8 1245.7 1405.4 1248.3C1407.0 1250.9 1408.6 1253.4 1410.2 1256.0C1411.9 1258.5 1413.5 1261.1 1415.2 1263.6C1416.9 1266.1 1418.5 1268.6 1420.2 1271.1C1421.9 1273.6 1423.6 1276.1 1425.4 1278.6C1427.1 1281.0 1428.8 1283.5 1430.6 1285.9C1432.4 1288.4 1434.1 1290.8 1435.9 1293.2C1437.7 1295.6 1439.5 1298.0 1441.4 1300.3C1443.2 1302.7 1445.1 1305.1 1446.9 1307.4C1448.8 1309.7 1450.7 1312.1 1452.6 1314.3C1454.5 1316.6 1456.5 1318.9 1458.4 1321.2C1460.4 1323.4 1462.3 1325.7 1464.3 1327.9C1466.3 1330.1 1468.4 1332.3 1470.4 1334.4C1472.4 1336.6 1474.5 1338.8 1476.6 1340.9C1478.7 1343.0 1480.8 1345.1 1482.9 1347.2C1485.1 1349.2 1487.3 1351.3 1489.4 1353.3C1491.6 1355.3 1493.9 1357.3 1496.1 1359.3C1498.3 1361.3 1500.6 1363.2 1502.9 1365.1C1505.2 1367.1 1507.5 1368.9 1509.9 1370.8C1512.2 1372.7 1514.6 1374.5 1517.0 1376.3C1519.4 1378.1 1521.9 1379.9 1524.4 1381.6C1526.8 1383.4 1529.3 1385.1 1531.9 1386.8C1534.4 1388.4 1536.9 1390.1 1539.5 1391.7C1542.1 1393.3 1544.8 1394.9 1547.4 1396.5C1550.1 1398.0 1552.8 1399.5 1555.5 1401.0L1560.5 1407.5C1562.2 1408.2 1564.0 1408.8 1565.7 1409.6C1567.4 1410.3 1569.1 1411.1 1570.7 1411.9C1572.4 1412.7 1574.1 1413.5 1575.7 1414.4C1577.4 1415.2 1579.0 1416.1 1580.6 1417.0C1582.3 1417.8 1583.9 1418.7 1585.6 1419.6C1587.2 1420.5 1588.8 1421.3 1590.5 1422.2C1592.2 1423.0 1593.8 1423.8 1595.5 1424.6L1600.5 1428.6C1603.4 1429.7 1606.3 1430.9 1609.2 1432.0C1612.1 1433.2 1615.0 1434.3 1617.9 1435.4C1620.8 1436.5 1623.7 1437.5 1626.6 1438.6C1629.5 1439.7 1632.4 1440.7 1635.3 1441.7C1638.3 1442.8 1641.2 1443.8 1644.1 1444.8C1647.0 1445.7 1650.0 1446.7 1652.9 1447.7C1655.8 1448.6 1658.8 1449.6 1661.7 1450.5C1664.7 1451.4 1667.6 1452.3 1670.6 1453.2C1673.5 1454.1 1676.5 1455.0 1679.4 1455.9C1682.4 1456.8 1685.4 1457.6 1688.3 1458.4C1691.3 1459.3 1694.3 1460.1 1697.2 1460.9C1700.2 1461.7 1703.2 1462.5 1706.2 1463.3C1709.2 1464.0 1712.1 1464.8 1715.1 1465.6C1718.1 1466.3 1721.1 1467.0 1724.1 1467.8C1727.1 1468.5 1730.1 1469.2 1733.1 1469.9C1736.1 1470.6 1739.1 1471.2 1742.1 1471.9C1745.1 1472.6 1748.1 1473.2 1751.1 1473.9C1754.1 1474.5 1757.2 1475.1 1760.2 1475.8C1763.2 1476.4 1766.2 1477.0 1769.2 1477.6C1772.3 1478.1 1775.3 1478.7 1778.3 1479.3C1781.4 1479.9 1784.4 1480.4 1787.4 1480.9C1790.5 1481.5 1793.5 1482.0 1796.5 1482.5C1799.6 1483.1 1802.6 1483.6 1805.7 1484.1C1808.7 1484.5 1811.7 1485.0 1814.8 1485.5C1817.8 1486.0 1820.9 1486.4 1823.9 1486.9C1827.0 1487.3 1830.0 1487.8 1833.1 1488.2C1836.2 1488.6 1839.2 1489.1 1842.3 1489.5C1845.3 1489.9 1848.4 1490.3 1851.5 1490.7C1854.5 1491.1 1857.6 1491.4 1860.7 1491.8C1863.7 1492.2 1866.8 1492.6 1869.9 1492.9C1872.9 1493.3 1876.0 1493.6 1879.1 1493.9C1882.2 1494.3 1885.2 1494.6 1888.3 1494.9C1891.4 1495.2 1894.5 1495.5 1897.5 1495.8C1900.6 1496.1 1903.7 1496.4 1906.8 1496.7C1909.9 1497.0 1913.0 1497.3 1916.0 1497.6C1919.1 1497.8 1922.2 1498.1 1925.3 1498.3C1928.4 1498.6 1931.5 1498.8 1934.6 1499.1C1937.6 1499.3 1940.7 1499.6 1943.8 1499.8C1946.9 1500.0 1950.0 1500.2 1953.1 1500.4C1956.2 1500.6 1959.3 1500.9 1962.4 1501.1C1965.5 1501.3 1968.6 1501.4 1971.7 1501.6C1974.7 1501.8 1977.8 1502.0 1980.9 1502.2C1984.0 1502.4 1987.1 1502.5 1990.2 1502.7C1993.3 1502.9 1996.4 1503.0 1999.5 1503.2C2002.6 1503.3 2005.7 1503.5 2008.8 1503.6C2011.9 1503.8 2015.0 1503.9 2018.1 1504.1C2021.2 1504.2 2024.3 1504.3 2027.4 1504.4C2030.5 1504.6 2033.6 1504.7 2036.7 1504.8C2039.8 1504.9 2042.9 1505.1 2046.0 1505.2C2049.0 1505.3 2052.1 1505.4 2055.2 1505.5C2058.3 1505.6 2061.4 1505.7 2064.5 1505.8C2067.6 1505.9 2070.7 1506.0 2073.8 1506.1C2076.9 1506.2 2080.0 1506.3 2083.1 1506.4C2086.2 1506.5 2089.3 1506.5 2092.3 1506.6C2095.4 1506.7 2098.5 1506.8 2101.6 1506.9C2104.7 1506.9 2107.8 1507.0 2110.9 1507.1C2114.0 1507.2 2117.0 1507.3 2120.1 1507.3C2123.2 1507.4 2126.3 1507.5 2129.4 1507.6C2132.5 1507.6 2135.5 1507.7 2138.6 1507.8C2141.7 1507.8 2144.8 1507.9 2147.9 1508.0C2150.9 1508.0 2154.0 1508.1 2157.1 1508.2C2160.2 1508.3 2163.2 1508.3 2166.3 1508.4C2169.4 1508.5 2172.4 1508.5 2175.5 1508.6"/>
<path stroke="#1A6DDF" d="M335.5 137.2C335.8 140.2 336.1 143.2 336.4 146.2C336.7 149.2 337.0 152.2 337.3 155.2C337.5 158.3 337.8 161.3 338.1 164.3C338.4 167.3 338.7 170.3 339.0 173.3C339.3 176.3 339.6 179.3 339.8 182.3C340.1 185.3 340.4 188.3 340.7 191.3C341.0 194.3 341.3 197.4 341.5 200.4C341.8 203.4 342.1 206.4 342.4 209.4C342.7 212.4 343.0 215.4 343.2 218.4C343.5 221.4 343.8 224.4 344.1 227.4C344.4 230.4 344.6 233.4 344.9 236.4C345.2 239.4 345.5 242.5 345.7 245.5C346.0 248.5 346.3 251.5 346.6 254.5C346.9 257.5 347.2 260.5 347.4 263.5C347.7 266.5 348.0 269.5 348.3 272.5C348.6 275.5 348.8 278.5 349.1 281.5C349.4 284.5 349.7 287.5 350.0 290.5C350.3 293.5 350.5 296.5 350.8 299.6C351.1 302.6 351.4 305.6 351.7 308.6C352.0 311.6 352.3 314.6 352.5 317.6C352.8 320.6 353.1 323.6 353.4 326.6C353.7 329.6 354.0 332.6 354.3 335.6C354.6 338.6 354.9 341.6 355.2 344.6C355.5 347.6 355.8 350.6 356.1 353.6C356.4 356.6 356.7 359.6 357.0 362.6C357.3 365.6 357.6 368.6 357.9 371.6C358.2 374.6 358.5 377.6 358.8 380.6C359.1 383.6 359.5 386.6 359.8 389.6C360.1 392.6 360.4 395.6 360.7 398.6C361.0 401.6 361.4 404.6 361.7 407.6C362.0 410.6 362.3 413.6 362.7 416.6C363.0 419.6 363.3 422.6 363.7 425.6C364.0 428.6 364.3 431.6 364.7 434.6C365.0 437.6 365.4 440.6 365.7 443.6C366.0 446.6 366.4 449.6 366.7 452.6C367.1 455.6 367.5 458.6 367.8 461.6C368.2 464.6 368.5 467.6 368.9 470.5C369.3 473.5 369.6 476.5 370.0 479.5C370.4 482.5 370.7 485.5 371.1 488.5C371.5 491.5 371.9 494.5 372.3 497.5C372.6 500.5 373.0 503.5 373.4 506.5C373.8 509.5 374.2 512.5 374.6 515.4C375.0 518.4 375.4 521.4 375.8 524.4C376.2 527.4 376.6 530.4 377.1 533.4C377.5 536.4 377.9 539.4 378.3 542.4C378.7 545.3 379.2 548.3 379.6 551.3C380.0 554.3 380.5 557.3 380.9 560.3C381.4 563.3 381.8 566.3 382.3 569.3C382.7 572.2 383.2 575.2 383.6 578.2C384.1 581.2 384.5 584.2 385.0 587.2C385.5 590.2 386.0 593.1 386.4 596.1C386.9 599.1 387.4 602.1 387.9 605.1C388.4 608.1 388.9 611.0 389.4 614.0C389.9 617.0 390.4 620.0 390.9 623.0C391.4 626.0 391.9 628.9 392.5 631.9C393.0 634.9 393.5 637.9 394.0 640.9C394.6 643.8 395.1 646.8 395.7 649.8C396.2 652.8 396.7 655.8 397.3 658.7C397.9 661.7 398.4 664.7 399.0 667.7C399.6 670.6 400.2 673.6 400.8 676.6C401.4 679.6 402.0 682.5 402.6 685.5C403.2 688.5 403.8 691.4 404.5 694.4C405.1 697.3 405.7 700.3 406.4 703.2C407.1 706.2 407.8 709.1 408.5 712.1C409.2 715.0 409.9 717.9 410.6 720.9C411.3 723.8 412.1 726.7 412.9 729.6C413.6 732.5 414.4 735.4 415.2 738.3C416.0 741.2 416.9 744.1 417.7 747.0C418.6 749.9 419.4 752.8 420.3 755.6C421.2 758.5 422.2 761.3 423.1 764.2C424.0 767.0 425.0 769.9 426.0 772.7C427.0 775.5 428.0 778.3 429.1 781.1C430.1 783.9 431.2 786.7 432.3 789.5C433.4 792.3 434.6 795.1 435.8 797.8C436.9 800.6 438.1 803.3 439.4 806.1C440.6 808.8 441.8 811.5 443.1 814.2C444.4 816.9 445.7 819.6 447.1 822.3C448.4 825.0 449.7 827.7 451.1 830.4C452.5 833.1 453.9 835.8 455.3 838.5C456.7 841.1 458.1 843.8 459.5 846.5C461.0 849.2 462.4 851.9 463.9 854.5C465.3 857.2 466.8 859.9 468.3 862.5C469.9 865.2 471.4 867.8 473.0 870.4C474.6 873.0 476.3 875.5 478.0 878.0C479.7 880.5 481.5 882.9 483.4 885.3C485.3 887.7 487.3 890.0 489.4 892.2C491.5 894.4 493.7 896.5 496.0 898.5C498.3 900.5 500.7 902.4 503.2 904.2C505.7 905.9 508.3 907.6 511.0 909.0C513.6 910.5 516.3 911.9 519.1 913.0C521.9 914.2 524.7 915.2 527.6 916.0C530.4 916.8 533.3 917.4 536.2 917.8C539.1 918.1 542.1 918.3 545.0 918.2C547.9 918.1 550.8 917.8 553.7 917.3C556.5 916.7 559.4 915.8 562.2 914.8C565.0 913.8 567.8 912.5 570.5 911.1C573.2 909.7 575.9 908.1 578.5 906.5C581.1 904.8 583.6 903.0 586.1 901.1C588.6 899.3 590.9 897.3 593.2 895.4C595.6 893.4 597.8 891.4 600.0 889.4C602.2 887.4 604.4 885.3 606.6 883.3C608.8 881.2 610.9 879.2 613.1 877.2C615.3 875.1 617.5 873.1 619.8 871.2C622.1 869.2 624.5 867.3 626.9 865.4C629.3 863.6 631.8 861.7 634.4 860.0C637.0 858.3 639.6 856.6 642.3 855.1C645.0 853.5 647.8 852.1 650.6 850.7C653.4 849.4 656.3 848.1 659.1 847.0C662.0 845.9 664.9 844.9 667.8 844.1C670.7 843.3 673.7 842.6 676.6 842.0C679.5 841.5 682.4 841.1 685.4 841.0C688.3 840.8 691.2 840.8 694.0 841.0C696.9 841.2 699.7 841.6 702.6 842.2C705.4 842.8 708.1 843.6 710.9 844.6C713.6 845.5 716.3 846.7 718.9 848.0C721.6 849.3 724.2 850.7 726.8 852.3C729.4 853.8 731.9 855.5 734.4 857.3C736.9 859.1 739.4 861.0 741.8 862.9C744.3 864.9 746.6 867.0 749.0 869.1C751.3 871.2 753.6 873.4 755.9 875.5C758.1 877.7 760.3 880.0 762.5 882.2C764.7 884.5 766.8 886.7 768.9 889.0C771.0 891.2 773.0 893.5 775.0 895.7C777.0 898.0 779.0 900.2 781.0 902.5C782.9 904.7 784.9 907.0 786.8 909.2C788.7 911.5 790.7 913.7 792.6 916.0C794.5 918.2 796.4 920.4 798.4 922.6C800.3 924.8 802.2 927.0 804.2 929.2C806.2 931.4 808.1 933.6 810.1 935.7C812.1 937.9 814.2 940.1 816.2 942.2C818.2 944.3 820.3 946.5 822.4 948.6C824.5 950.7 826.6 952.9 828.8 955.0C830.9 957.1 833.1 959.2 835.3 961.4C837.5 963.5 839.7 965.6 841.9 967.8C844.2 969.9 846.5 972.1 848.8 974.2C851.1 976.4 853.4 978.6 855.8 980.8C858.2 982.9 860.6 985.2 863.0 987.3C865.4 989.3 867.9 991.4 870.4 993.3C872.9 995.2 875.5 997.0 878.0 998.6C880.6 1000.1 883.2 1001.5 885.9 1002.5C888.6 1003.6 891.3 1004.4 894.0 1004.9C896.8 1005.4 899.6 1005.5 902.4 1005.5C905.2 1005.4 908.0 1005.1 910.9 1004.5C913.7 1004.0 916.5 1003.2 919.3 1002.3C922.2 1001.4 925.0 1000.2 927.7 999.0C930.5 997.7 933.2 996.3 935.9 994.8C938.6 993.3 941.2 991.7 943.8 990.0C946.4 988.4 948.9 986.6 951.3 984.8C953.7 983.0 956.1 981.2 958.4 979.3C960.8 977.4 963.0 975.5 965.3 973.5C967.5 971.5 969.7 969.5 971.8 967.4C974.0 965.3 976.1 963.3 978.2 961.1C980.3 959.0 982.4 956.9 984.5 954.7C986.5 952.5 988.6 950.4 990.6 948.2C992.7 946.0 994.7 943.8 996.8 941.6C998.8 939.4 1000.9 937.1 1002.9 934.9C1005.0 932.7 1007.1 930.5 1009.2 928.3C1011.3 926.1 1013.4 923.9 1015.5 921.8C1017.7 919.6 1019.9 917.4 1022.1 915.3C1024.3 913.2 1026.6 911.1 1028.9 909.0C1031.2 907.0 1033.6 904.9 1036.0 902.9C1038.4 901.0 1040.9 899.0 1043.4 897.1C1045.9 895.2 1048.5 893.4 1051.1 891.7C1053.7 890.0 1056.4 888.3 1059.1 886.8C1061.8 885.3 1064.5 883.8 1067.3 882.5C1070.0 881.2 1072.8 880.0 1075.6 879.0C1078.4 878.0 1081.2 877.1 1084.1 876.4C1086.9 875.7 1089.8 875.2 1092.7 874.9C1095.5 874.5 1098.4 874.4 1101.3 874.4C1104.2 874.5 1107.1 874.8 1110.0 875.2C1112.8 875.7 1115.7 876.3 1118.6 877.1C1121.4 878.0 1124.2 879.0 1127.0 880.1C1129.8 881.2 1132.6 882.5 1135.3 883.8C1138.0 885.2 1140.7 886.7 1143.3 888.3C1145.9 889.9 1148.4 891.5 1150.9 893.3C1153.4 895.0 1155.8 896.8 1158.1 898.7C1160.4 900.6 1162.7 902.6 1165.0 904.6C1167.2 906.6 1169.4 908.6 1171.5 910.8C1173.6 912.9 1175.7 915.1 1177.7 917.3C1179.7 919.5 1181.7 921.8 1183.6 924.1C1185.6 926.4 1187.5 928.8 1189.3 931.2C1191.2 933.6 1193.0 936.0 1194.8 938.5C1196.6 940.9 1198.3 943.4 1200.1 945.9C1201.8 948.4 1203.5 951.0 1205.2 953.5C1206.9 956.0 1208.5 958.6 1210.2 961.2C1211.8 963.7 1213.4 966.3 1215.0 968.9C1216.6 971.5 1218.2 974.1 1219.8 976.6C1221.4 979.2 1223.0 981.8 1224.5 984.4C1226.1 987.0 1227.6 989.6 1229.1 992.2C1230.7 994.8 1232.2 997.4 1233.7 1000.1C1235.2 1002.7 1236.7 1005.3 1238.1 1007.9C1239.6 1010.5 1241.1 1013.2 1242.6 1015.8C1244.0 1018.4 1245.5 1021.1 1246.9 1023.7C1248.3 1026.3 1249.8 1029.0 1251.2 1031.6C1252.6 1034.3 1254.0 1036.9 1255.4 1039.6C1256.8 1042.2 1258.2 1044.9 1259.6 1047.5C1261.0 1050.2 1262.4 1052.9 1263.7 1055.5C1265.1 1058.2 1266.5 1060.9 1267.8 1063.5C1269.2 1066.2 1270.5 1068.9 1271.9 1071.6C1273.2 1074.3 1274.6 1076.9 1275.9 1079.6C1277.2 1082.3 1278.6 1085.0 1279.9 1087.7C1281.2 1090.4 1282.6 1093.1 1283.9 1095.8C1285.2 1098.4 1286.5 1101.1 1287.9 1103.8C1289.2 1106.5 1290.5 1109.2 1291.8 1111.9C1293.1 1114.6 1294.4 1117.4 1295.7 1120.1C1297.1 1122.8 1298.4 1125.5 1299.7 1128.2C1301.0 1130.9 1302.3 1133.6 1303.6 1136.3C1304.9 1139.0 1306.2 1141.7 1307.6 1144.5C1308.9 1147.2 1310.2 1149.9 1311.5 1152.6C1312.8 1155.3 1314.1 1158.0 1315.5 1160.7C1316.8 1163.5 1318.1 1166.2 1319.5 1168.9C1320.8 1171.6 1322.1 1174.3 1323.5 1177.0C1324.8 1179.7 1326.2 1182.4 1327.5 1185.1C1328.9 1187.8 1330.2 1190.5 1331.6 1193.2C1333.0 1195.9 1334.3 1198.6 1335.7 1201.3C1337.1 1204.0 1338.5 1206.7 1339.9 1209.4C1341.3 1212.1 1342.7 1214.8 1344.1 1217.4C1345.5 1220.1 1346.9 1222.8 1348.3 1225.4C1349.8 1228.1 1351.2 1230.8 1352.7 1233.4C1354.1 1236.1 1355.6 1238.7 1357.1 1241.3C1358.5 1244.0 1360.0 1246.6 1361.5 1249.2C1363.0 1251.9 1364.5 1254.5 1366.1 1257.1C1367.6 1259.7 1369.1 1262.3 1370.7 1264.9C1372.2 1267.5 1373.8 1270.1 1375.4 1272.6C1377.0 1275.2 1378.6 1277.8 1380.2 1280.3C1381.8 1282.9 1383.4 1285.4 1385.1 1288.0C1386.7 1290.5 1388.4 1293.0 1390.0 1295.5C1391.7 1298.1 1393.4 1300.6 1395.1 1303.1C1396.8 1305.5 1398.6 1308.0 1400.3 1310.5C1402.1 1313.0 1403.9 1315.4 1405.7 1317.9C1407.4 1320.3 1409.3 1322.7 1411.1 1325.1C1412.9 1327.5 1414.8 1329.9 1416.7 1332.3C1418.5 1334.7 1420.4 1337.1 1422.3 1339.4C1424.3 1341.8 1426.2 1344.1 1428.2 1346.4C1430.1 1348.7 1432.1 1351.0 1434.1 1353.3C1436.1 1355.6 1438.1 1357.8 1440.2 1360.0C1442.2 1362.3 1444.3 1364.5 1446.4 1366.6C1448.5 1368.8 1450.6 1371.0 1452.7 1373.1C1454.9 1375.2 1457.0 1377.3 1459.2 1379.4C1461.4 1381.4 1463.6 1383.5 1465.9 1385.5C1468.1 1387.5 1470.4 1389.5 1472.6 1391.4C1474.9 1393.3 1477.2 1395.2 1479.6 1397.1C1481.9 1399.0 1484.2 1400.8 1486.6 1402.6C1489.0 1404.4 1491.4 1406.2 1493.8 1407.9C1496.3 1409.6 1498.7 1411.3 1501.2 1413.0C1503.7 1414.6 1506.2 1416.2 1508.7 1417.8C1511.3 1419.4 1513.8 1420.9 1516.4 1422.4C1519.0 1423.8 1521.6 1425.3 1524.3 1426.7C1526.9 1428.1 1529.6 1429.4 1532.3 1430.7C1535.0 1432.0 1537.7 1433.2 1540.4 1434.4C1543.2 1435.6 1546.0 1436.8 1548.8 1437.9C1551.6 1439.0 1554.4 1440.0 1557.3 1441.0C1560.1 1442.0 1563.0 1442.9 1565.9 1443.8C1568.9 1444.7 1571.8 1445.5 1574.8 1446.3C1577.8 1447.1 1580.8 1447.8 1583.8 1448.4C1586.8 1449.1 1589.9 1449.6 1593.0 1450.2L1598.0 1454.5C1601.0 1455.1 1604.0 1455.7 1607.0 1456.4C1610.0 1457.0 1613.0 1457.6 1616.0 1458.2C1619.1 1458.8 1622.1 1459.4 1625.1 1459.9C1628.1 1460.5 1631.1 1461.1 1634.1 1461.7C1637.1 1462.2 1640.2 1462.8 1643.2 1463.4C1646.2 1463.9 1649.2 1464.5 1652.2 1465.0C1655.3 1465.5 1658.3 1466.1 1661.3 1466.6C1664.3 1467.1 1667.3 1467.7 1670.4 1468.2C1673.4 1468.7 1676.4 1469.2 1679.5 1469.7C1682.5 1470.2 1685.5 1470.7 1688.5 1471.2C1691.6 1471.7 1694.6 1472.2 1697.6 1472.7C1700.7 1473.2 1703.7 1473.6 1706.7 1474.1C1709.8 1474.6 1712.8 1475.0 1715.8 1475.5C1718.9 1475.9 1721.9 1476.4 1725.0 1476.8C1728.0 1477.3 1731.0 1477.7 1734.1 1478.2C1737.1 1478.6 1740.2 1479.0 1743.2 1479.4C1746.3 1479.9 1749.3 1480.3 1752.3 1480.7C1755.4 1481.1 1758.4 1481.5 1761.5 1481.9C1764.5 1482.3 1767.6 1482.7 1770.6 1483.1C1773.7 1483.5 1776.7 1483.9 1779.8 1484.3C1782.8 1484.6 1785.9 1485.0 1788.9 1485.4C1792.0 1485.7 1795.0 1486.1 1798.1 1486.5C1801.1 1486.8 1804.2 1487.2 1807.3 1487.5C1810.3 1487.9 1813.4 1488.2 1816.4 1488.6C1819.5 1488.9 1822.5 1489.2 1825.6 1489.5C1828.7 1489.9 1831.7 1490.2 1834.8 1490.5C1837.8 1490.8 1840.9 1491.2 1844.0 1491.5C1847.0 1491.8 1850.1 1492.1 1853.1 1492.4C1856.2 1492.7 1859.3 1493.0 1862.3 1493.3C1865.4 1493.6 1868.5 1493.8 1871.5 1494.1C1874.6 1494.4 1877.6 1494.7 1880.7 1495.0C1883.8 1495.2 1886.8 1495.5 1889.9 1495.8C1893.0 1496.0 1896.0 1496.3 1899.1 1496.5C1902.2 1496.8 1905.2 1497.0 1908.3 1497.3C1911.4 1497.5 1914.4 1497.8 1917.5 1498.0C1920.6 1498.3 1923.7 1498.5 1926.7 1498.7C1929.8 1499.0 1932.9 1499.2 1935.9 1499.4C1939.0 1499.6 1942.1 1499.9 1945.1 1500.1C1948.2 1500.3 1951.3 1500.5 1954.4 1500.7C1957.4 1500.9 1960.5 1501.1 1963.6 1501.3C1966.6 1501.5 1969.7 1501.7 1972.8 1501.9C1975.9 1502.1 1978.9 1502.3 1982.0 1502.5C1985.1 1502.7 1988.2 1502.9 1991.2 1503.1C1994.3 1503.2 1997.4 1503.4 2000.4 1503.6C2003.5 1503.8 2006.6 1503.9 2009.7 1504.1C2012.7 1504.3 2015.8 1504.4 2018.9 1504.6C2022.0 1504.8 2025.0 1504.9 2028.1 1505.1C2031.2 1505.2 2034.3 1505.4 2037.3 1505.5C2040.4 1505.7 2043.5 1505.8 2046.5 1506.0C2049.6 1506.1 2052.7 1506.3 2055.8 1506.4C2058.8 1506.5 2061.9 1506.7 2065.0 1506.8C2068.1 1506.9 2071.1 1507.1 2074.2 1507.2C2077.3 1507.3 2080.3 1507.4 2083.4 1507.6C2086.5 1507.7 2089.6 1507.8 2092.6 1507.9C2095.7 1508.1 2098.8 1508.2 2101.9 1508.3C2104.9 1508.4 2108.0 1508.5 2111.1 1508.6C2114.1 1508.7 2117.2 1508.8 2120.3 1508.9C2123.3 1509.0 2126.4 1509.1 2129.5 1509.2C2132.6 1509.3 2135.6 1509.4 2138.7 1509.5C2141.8 1509.6 2144.8 1509.7 2147.9 1509.8C2151.0 1509.9 2154.0 1510.0 2157.1 1510.1C2160.2 1510.2 2163.2 1510.3 2166.3 1510.4C2169.4 1510.4 2172.4 1510.5 2175.5 1510.6"/>
</g>
<line x1="2175.50" y1="43.00" x2="2175.50" y2="1550.00" stroke="#000" stroke-width="6.80"/>
<g fill="none" stroke-width="11" stroke-linecap="round">
<line x1="472.4" y1="178.9" x2="645.8" y2="178.9" stroke="#515151"/>
<line x1="472.4" y1="293.3" x2="645.8" y2="293.3" stroke="#F04040"/>
<line x1="472.4" y1="388.3" x2="645.8" y2="388.3" stroke="#1A6DDF"/>
</g>
<g font-size="75.50" letter-spacing="0.64">
<text x="666.3" y="204.6">H<tspan font-size="51" dy="21" letter-spacing="0">2</tspan><tspan dy="-21" dx="1.2" letter-spacing="1.6">DBAZ</tspan></text>
<text x="666.9" y="319">Tb(III)-(DBAZ)</text>
<text x="666.9" y="415">Tb(III)-(DBAZ)-A7</text>
</g>
<g font-size="80.00" text-anchor="middle">
<text transform="translate(480.4 1629.3) scale(0.975 1)">225</text>
<text transform="translate(722.5 1629.3) scale(0.975 1)">250</text>
<text transform="translate(964.6 1629.3) scale(0.975 1)">275</text>
<text transform="translate(1206.7 1629.3) scale(0.975 1)">300</text>
<text transform="translate(1448.9 1629.3) scale(0.975 1)">325</text>
<text transform="translate(1691.0 1629.3) scale(0.975 1)">350</text>
<text transform="translate(1933.1 1629.3) scale(0.975 1)">375</text>
<text transform="translate(2175.2 1629.3) scale(0.975 1)">400</text>
</g>
<g font-size="80.00" text-anchor="end">
<text transform="translate(285.9 1544.1) scale(0.975 1)">0.0</text>
<text transform="translate(285.9 1347.5) scale(0.975 1)">0.2</text>
<text transform="translate(285.9 1150.9) scale(0.975 1)">0.4</text>
<text transform="translate(285.9 954.2) scale(0.975 1)">0.6</text>
<text transform="translate(285.9 757.6) scale(0.975 1)">0.8</text>
<text transform="translate(285.9 561.0) scale(0.975 1)">1.0</text>
<text transform="translate(285.9 364.4) scale(0.975 1)">1.2</text>
<text transform="translate(285.9 167.8) scale(0.975 1)">1.4</text>
</g>
<text x="1255.4" y="1726.5" font-size="83.3" letter-spacing="0.53" text-anchor="middle">Wavelength (nm)</text>
<text transform="translate(104.3 722.6) rotate(-90)" font-size="77.3" text-anchor="middle">Absorbance (a.u.)</text>
</svg></body></html>
